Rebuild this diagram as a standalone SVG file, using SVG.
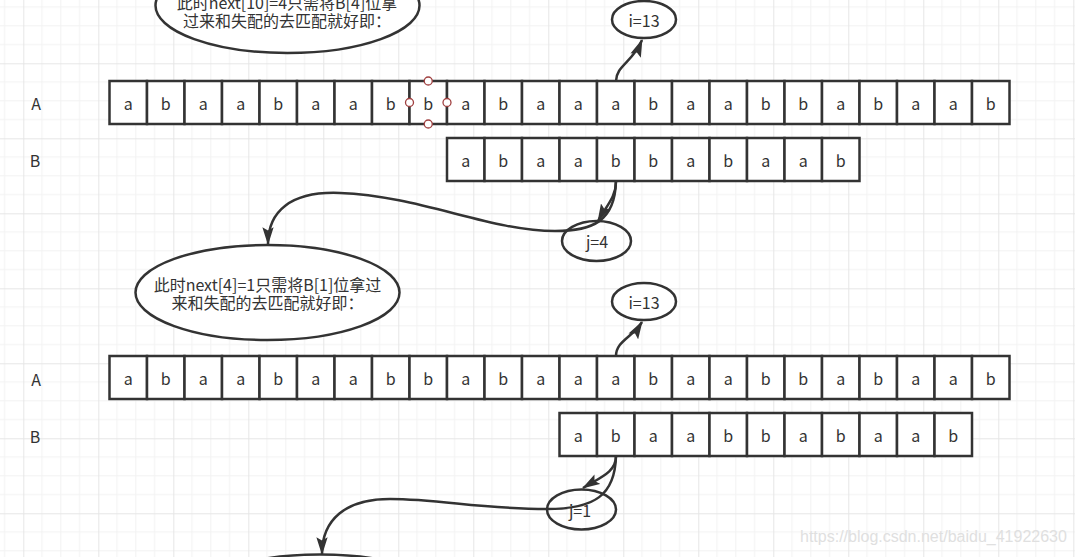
<svg xmlns="http://www.w3.org/2000/svg" width="1075" height="557" viewBox="0 0 1075 557">
<defs>
<pattern id="grid" width="75" height="75" patternUnits="userSpaceOnUse" x="23.3" y="63.3">
<path d="M18.75 0V75M37.5 0V75M56.25 0V75M0 18.75H75M0 37.5H75M0 56.25H75" stroke="#f2f2f2" stroke-width="1" fill="none"/>
<path d="M0.5 0V75M0 0.5H75" stroke="#e6e6e6" stroke-width="1" fill="none"/>
</pattern>
<marker id="arr" markerUnits="userSpaceOnUse" markerWidth="18" markerHeight="12" viewBox="0 0 16 10" refX="15" refY="5" orient="auto">
<path d="M0,0 L16,5 L0,10 L3,5 z" fill="#333"/>
</marker>
<style>
.c{fill:#fff;stroke:#333;stroke-width:2.5}
.t{font-family:"Noto Sans CJK SC","Noto Sans",sans-serif;font-size:16px;fill:#333;text-anchor:middle;dominant-baseline:central}
.e{fill:#fff;stroke:#333;stroke-width:2.5}
.et{font-family:"Noto Sans CJK SC","Noto Sans",sans-serif;font-size:16px;fill:#333;text-anchor:middle;dominant-baseline:central}
.l{fill:none;stroke:#333;stroke-width:2.5}
.h{fill:#fff;stroke:#a04040;stroke-width:1.3}
</style>
</defs>
<rect width="1075" height="557" fill="#fff"/>
<rect width="1075" height="557" fill="url(#grid)"/>

<g id="labels">
<text class="t" x="36" y="103">A</text>
<text class="t" x="35" y="160">B</text>
<text class="t" x="36" y="379">A</text>
<text class="t" x="35" y="436">B</text>
</g>

<g id="rowA1" transform="translate(109.5,81)">
<g id="A1-0"><rect class="c" x="0" y="0" width="37.5" height="43"/><text class="t" x="18.75" y="21.5">a</text></g>
<g id="A1-1"><rect class="c" x="37.5" y="0" width="37.5" height="43"/><text class="t" x="56.25" y="21.5">b</text></g>
<g id="A1-2"><rect class="c" x="75" y="0" width="37.5" height="43"/><text class="t" x="93.75" y="21.5">a</text></g>
<g id="A1-3"><rect class="c" x="112.5" y="0" width="37.5" height="43"/><text class="t" x="131.25" y="21.5">a</text></g>
<g id="A1-4"><rect class="c" x="150" y="0" width="37.5" height="43"/><text class="t" x="168.75" y="21.5">b</text></g>
<g id="A1-5"><rect class="c" x="187.5" y="0" width="37.5" height="43"/><text class="t" x="206.25" y="21.5">a</text></g>
<g id="A1-6"><rect class="c" x="225" y="0" width="37.5" height="43"/><text class="t" x="243.75" y="21.5">a</text></g>
<g id="A1-7"><rect class="c" x="262.5" y="0" width="37.5" height="43"/><text class="t" x="281.25" y="21.5">b</text></g>
<g id="A1-8"><rect class="c" x="300" y="0" width="37.5" height="43"/><text class="t" x="318.75" y="21.5">b</text></g>
<g id="A1-9"><rect class="c" x="337.5" y="0" width="37.5" height="43"/><text class="t" x="356.25" y="21.5">a</text></g>
<g id="A1-10"><rect class="c" x="375" y="0" width="37.5" height="43"/><text class="t" x="393.75" y="21.5">b</text></g>
<g id="A1-11"><rect class="c" x="412.5" y="0" width="37.5" height="43"/><text class="t" x="431.25" y="21.5">a</text></g>
<g id="A1-12"><rect class="c" x="450" y="0" width="37.5" height="43"/><text class="t" x="468.75" y="21.5">a</text></g>
<g id="A1-13"><rect class="c" x="487.5" y="0" width="37.5" height="43"/><text class="t" x="506.25" y="21.5">a</text></g>
<g id="A1-14"><rect class="c" x="525" y="0" width="37.5" height="43"/><text class="t" x="543.75" y="21.5">b</text></g>
<g id="A1-15"><rect class="c" x="562.5" y="0" width="37.5" height="43"/><text class="t" x="581.25" y="21.5">a</text></g>
<g id="A1-16"><rect class="c" x="600" y="0" width="37.5" height="43"/><text class="t" x="618.75" y="21.5">a</text></g>
<g id="A1-17"><rect class="c" x="637.5" y="0" width="37.5" height="43"/><text class="t" x="656.25" y="21.5">b</text></g>
<g id="A1-18"><rect class="c" x="675" y="0" width="37.5" height="43"/><text class="t" x="693.75" y="21.5">b</text></g>
<g id="A1-19"><rect class="c" x="712.5" y="0" width="37.5" height="43"/><text class="t" x="731.25" y="21.5">a</text></g>
<g id="A1-20"><rect class="c" x="750" y="0" width="37.5" height="43"/><text class="t" x="768.75" y="21.5">b</text></g>
<g id="A1-21"><rect class="c" x="787.5" y="0" width="37.5" height="43"/><text class="t" x="806.25" y="21.5">a</text></g>
<g id="A1-22"><rect class="c" x="825" y="0" width="37.5" height="43"/><text class="t" x="843.75" y="21.5">a</text></g>
<g id="A1-23"><rect class="c" x="862.5" y="0" width="37.5" height="43"/><text class="t" x="881.25" y="21.5">b</text></g>
</g>
<g id="handles">
<circle class="h" cx="428.25" cy="81" r="4"/>
<circle class="h" cx="428.25" cy="124" r="4"/>
<circle class="h" cx="409.5" cy="102.5" r="4"/>
<circle class="h" cx="447" cy="102.5" r="4"/>
</g>

<g id="rowB1" transform="translate(447,138)">
<g id="B1-0"><rect class="c" x="0" y="0" width="37.5" height="43"/><text class="t" x="18.75" y="21.5">a</text></g>
<g id="B1-1"><rect class="c" x="37.5" y="0" width="37.5" height="43"/><text class="t" x="56.25" y="21.5">b</text></g>
<g id="B1-2"><rect class="c" x="75" y="0" width="37.5" height="43"/><text class="t" x="93.75" y="21.5">a</text></g>
<g id="B1-3"><rect class="c" x="112.5" y="0" width="37.5" height="43"/><text class="t" x="131.25" y="21.5">a</text></g>
<g id="B1-4"><rect class="c" x="150" y="0" width="37.5" height="43"/><text class="t" x="168.75" y="21.5">b</text></g>
<g id="B1-5"><rect class="c" x="187.5" y="0" width="37.5" height="43"/><text class="t" x="206.25" y="21.5">b</text></g>
<g id="B1-6"><rect class="c" x="225" y="0" width="37.5" height="43"/><text class="t" x="243.75" y="21.5">a</text></g>
<g id="B1-7"><rect class="c" x="262.5" y="0" width="37.5" height="43"/><text class="t" x="281.25" y="21.5">b</text></g>
<g id="B1-8"><rect class="c" x="300" y="0" width="37.5" height="43"/><text class="t" x="318.75" y="21.5">a</text></g>
<g id="B1-9"><rect class="c" x="337.5" y="0" width="37.5" height="43"/><text class="t" x="356.25" y="21.5">a</text></g>
<g id="B1-10"><rect class="c" x="375" y="0" width="37.5" height="43"/><text class="t" x="393.75" y="21.5">b</text></g>
</g>

<g id="rowA2" transform="translate(109.5,356)">
<g id="A2-0"><rect class="c" x="0" y="0" width="37.5" height="43"/><text class="t" x="18.75" y="21.5">a</text></g>
<g id="A2-1"><rect class="c" x="37.5" y="0" width="37.5" height="43"/><text class="t" x="56.25" y="21.5">b</text></g>
<g id="A2-2"><rect class="c" x="75" y="0" width="37.5" height="43"/><text class="t" x="93.75" y="21.5">a</text></g>
<g id="A2-3"><rect class="c" x="112.5" y="0" width="37.5" height="43"/><text class="t" x="131.25" y="21.5">a</text></g>
<g id="A2-4"><rect class="c" x="150" y="0" width="37.5" height="43"/><text class="t" x="168.75" y="21.5">b</text></g>
<g id="A2-5"><rect class="c" x="187.5" y="0" width="37.5" height="43"/><text class="t" x="206.25" y="21.5">a</text></g>
<g id="A2-6"><rect class="c" x="225" y="0" width="37.5" height="43"/><text class="t" x="243.75" y="21.5">a</text></g>
<g id="A2-7"><rect class="c" x="262.5" y="0" width="37.5" height="43"/><text class="t" x="281.25" y="21.5">b</text></g>
<g id="A2-8"><rect class="c" x="300" y="0" width="37.5" height="43"/><text class="t" x="318.75" y="21.5">b</text></g>
<g id="A2-9"><rect class="c" x="337.5" y="0" width="37.5" height="43"/><text class="t" x="356.25" y="21.5">a</text></g>
<g id="A2-10"><rect class="c" x="375" y="0" width="37.5" height="43"/><text class="t" x="393.75" y="21.5">b</text></g>
<g id="A2-11"><rect class="c" x="412.5" y="0" width="37.5" height="43"/><text class="t" x="431.25" y="21.5">a</text></g>
<g id="A2-12"><rect class="c" x="450" y="0" width="37.5" height="43"/><text class="t" x="468.75" y="21.5">a</text></g>
<g id="A2-13"><rect class="c" x="487.5" y="0" width="37.5" height="43"/><text class="t" x="506.25" y="21.5">a</text></g>
<g id="A2-14"><rect class="c" x="525" y="0" width="37.5" height="43"/><text class="t" x="543.75" y="21.5">b</text></g>
<g id="A2-15"><rect class="c" x="562.5" y="0" width="37.5" height="43"/><text class="t" x="581.25" y="21.5">a</text></g>
<g id="A2-16"><rect class="c" x="600" y="0" width="37.5" height="43"/><text class="t" x="618.75" y="21.5">a</text></g>
<g id="A2-17"><rect class="c" x="637.5" y="0" width="37.5" height="43"/><text class="t" x="656.25" y="21.5">b</text></g>
<g id="A2-18"><rect class="c" x="675" y="0" width="37.5" height="43"/><text class="t" x="693.75" y="21.5">b</text></g>
<g id="A2-19"><rect class="c" x="712.5" y="0" width="37.5" height="43"/><text class="t" x="731.25" y="21.5">a</text></g>
<g id="A2-20"><rect class="c" x="750" y="0" width="37.5" height="43"/><text class="t" x="768.75" y="21.5">b</text></g>
<g id="A2-21"><rect class="c" x="787.5" y="0" width="37.5" height="43"/><text class="t" x="806.25" y="21.5">a</text></g>
<g id="A2-22"><rect class="c" x="825" y="0" width="37.5" height="43"/><text class="t" x="843.75" y="21.5">a</text></g>
<g id="A2-23"><rect class="c" x="862.5" y="0" width="37.5" height="43"/><text class="t" x="881.25" y="21.5">b</text></g>
</g>

<g id="rowB2" transform="translate(559.5,413)">
<g id="B2-0"><rect class="c" x="0" y="0" width="37.5" height="43"/><text class="t" x="18.75" y="21.5">a</text></g>
<g id="B2-1"><rect class="c" x="37.5" y="0" width="37.5" height="43"/><text class="t" x="56.25" y="21.5">b</text></g>
<g id="B2-2"><rect class="c" x="75" y="0" width="37.5" height="43"/><text class="t" x="93.75" y="21.5">a</text></g>
<g id="B2-3"><rect class="c" x="112.5" y="0" width="37.5" height="43"/><text class="t" x="131.25" y="21.5">a</text></g>
<g id="B2-4"><rect class="c" x="150" y="0" width="37.5" height="43"/><text class="t" x="168.75" y="21.5">b</text></g>
<g id="B2-5"><rect class="c" x="187.5" y="0" width="37.5" height="43"/><text class="t" x="206.25" y="21.5">b</text></g>
<g id="B2-6"><rect class="c" x="225" y="0" width="37.5" height="43"/><text class="t" x="243.75" y="21.5">a</text></g>
<g id="B2-7"><rect class="c" x="262.5" y="0" width="37.5" height="43"/><text class="t" x="281.25" y="21.5">b</text></g>
<g id="B2-8"><rect class="c" x="300" y="0" width="37.5" height="43"/><text class="t" x="318.75" y="21.5">a</text></g>
<g id="B2-9"><rect class="c" x="337.5" y="0" width="37.5" height="43"/><text class="t" x="356.25" y="21.5">a</text></g>
<g id="B2-10"><rect class="c" x="375" y="0" width="37.5" height="43"/><text class="t" x="393.75" y="21.5">b</text></g>
</g>

<g id="note1">
<ellipse class="e" cx="287.5" cy="5.5" rx="132" ry="47.5"/>
<text class="et" x="287" y="2">此时next[10]=4只需将B[4]位拿</text>
<text class="et" x="287" y="20">过来和失配的去匹配就好即：</text>
</g>
<g id="i13a">
<ellipse class="e" cx="644" cy="19.5" rx="32" ry="18.5"/>
<text class="t" x="644" y="20">i=13</text>
</g>
<g id="note2">
<ellipse class="e" cx="267.5" cy="292.5" rx="132" ry="47.5"/>
<text class="et" x="267.5" y="284">此时next[4]=1只需将B[1]位拿过</text>
<text class="et" x="267.5" y="302">来和失配的去匹配就好即：</text>
</g>
<g id="i13b">
<ellipse class="e" cx="644" cy="301.5" rx="32" ry="18.5"/>
<text class="t" x="644" y="302">i=13</text>
</g>
<g id="note3">
<ellipse class="e" cx="320" cy="602" rx="132" ry="47.5"/>
</g>

<g id="connectors">
<path class="l" d="M616 81 C616 66 633 62 642 40" marker-end="url(#arr)"/>
<path class="l" d="M616 356 C616 341 633 337 642 322" marker-end="url(#arr)"/>
<path class="l" d="M616 181 C616 198 606 206 598 221" marker-end="url(#arr)"/>
<path class="l" d="M616 181 C615 222 592 231 555 231 C490 231 420 196 340 193 C290 191 268 212 268 244" marker-end="url(#arr)"/>
<path class="l" d="M616 456 C616 472 601 477 583 488" marker-end="url(#arr)"/>
<path class="l" d="M616 456 C615 495 595 509 547 509 C480 509 440 499 390 499 C345 499 322 520 322 554" marker-end="url(#arr)"/>
</g>

<g id="j4">
<ellipse cx="596.5" cy="241" rx="34.5" ry="20" fill="none" stroke="#333" stroke-width="2.5"/>
<text class="t" x="597" y="241">j=4</text>
</g>
<g id="j1">
<ellipse cx="581.5" cy="509.5" rx="34.5" ry="20" fill="none" stroke="#333" stroke-width="2.5"/>
<text class="t" x="580" y="510">j=1</text>
</g>

<text x="800" y="542" font-family="Liberation Sans, sans-serif" font-size="16" fill="#e0e0e0">https://blog.csdn.net/baidu_41922630</text>
</svg>
